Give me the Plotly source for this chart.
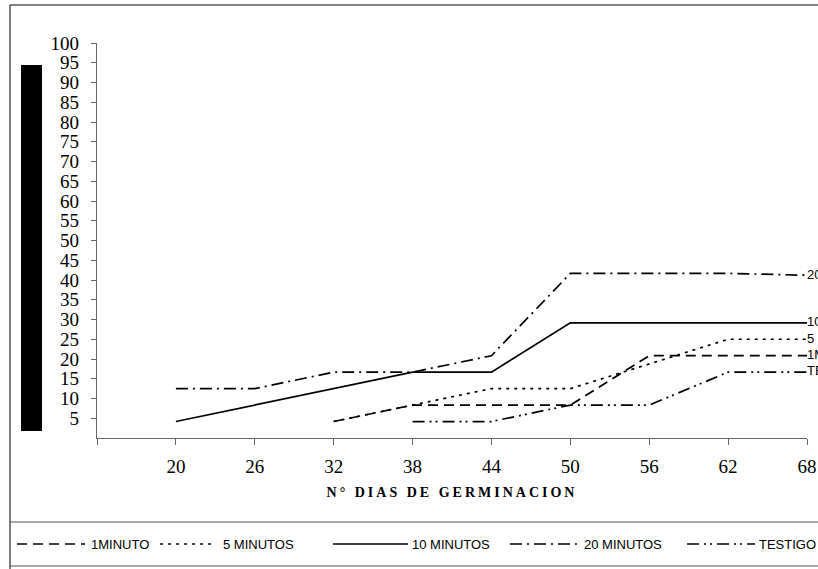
import plotly.graph_objects as go

days = [20, 26, 32, 38, 44, 50, 56, 62, 68]
min1 = [None, None, 4.17, 8.33, 8.33, 8.33, 20.83, 20.83, 20.83]
min5 = [None, None, 4.17, 8.33, 12.5, 12.5, 18.75, 25.0, 25.0]
min10 = [4.17, 8.33, 12.5, 16.67, 16.67, 29.17, 29.17, 29.17, 29.17]
min20 = [12.5, 12.5, 16.67, 16.67, 20.83, 41.67, 41.67, 41.67, 41.2]
testigo = [None, None, None, 4.17, 4.17, 8.33, 8.33, 16.67, 16.67]

series_names = ["1MINUTO", "5 MINUTOS", "10 MINUTOS", "20 MINUTOS", "TESTIGO"]
series_values = [min1, min5, min10, min20, testigo]
dashes = ["10px,6px", "3px,5px", "solid", "12px,5px,2px,5px", "12px,5px,2px,4px,2px,5px"]

x_tickvals = [14, 20, 26, 32, 38, 44, 50, 56, 62, 68]
x_ticktext = ["", "20", "26", "32", "38", "44", "50", "56", "62", "68"]
y_tickvals = list(range(5, 101, 5))

W, H = 818, 569
L, R, T, B = 97, 11, 43, 131
pw, ph = W - L - R, H - T - B

def px(xp):
    return (xp - L) / pw

def py(yp):
    return (H - B - yp) / ph

# manual legend layout (pixel positions)
leg_sym_x0 = [17, 160, 333, 510, 687]
leg_sym_x1 = [85, 213, 408, 580, 755]
leg_txt_x = [89, 221, 410, 582, 757]
leg_y = 544

fig = go.Figure()
for name, vals, dash in zip(series_names, series_values, dashes):
    txt = [""] * (len(vals) - 1) + [name]
    fig.add_trace(go.Scatter(
        x=days, y=vals, name=name, mode="lines+text",
        text=txt, textposition="middle right",
        textfont=dict(family="Liberation Sans", size=13, color="black"),
        line=dict(color="black", width=1.7, dash=dash),
        cliponaxis=False, connectgaps=False, showlegend=False,
    ))

shapes = [
    dict(type="rect", xref="paper", yref="paper", x0=px(10), x1=px(840), y0=py(600), y1=py(5),
         line=dict(color="black", width=1), fillcolor="rgba(0,0,0,0)", layer="below"),
    dict(type="line", xref="paper", yref="paper", x0=px(10), x1=px(840), y0=py(522), y1=py(522),
         line=dict(color="#555555", width=1.2)),
    dict(type="line", xref="paper", yref="paper", x0=px(10), x1=px(840), y0=py(566), y1=py(566),
         line=dict(color="#555555", width=1.2)),
    dict(type="rect", xref="paper", yref="paper", x0=px(21), x1=px(42), y0=py(431), y1=py(65),
         line=dict(width=0), fillcolor="black"),
]
annotations = []
for name, dash, x0, x1, tx in zip(series_names, dashes, leg_sym_x0, leg_sym_x1, leg_txt_x):
    shapes.append(dict(type="line", xref="paper", yref="paper", x0=px(x0), x1=px(x1),
                       y0=py(leg_y), y1=py(leg_y), line=dict(color="black", width=1.7, dash=dash)))
    annotations.append(dict(xref="paper", yref="paper", x=px(tx), y=py(leg_y), text=name,
                            showarrow=False, xanchor="left", yanchor="middle",
                            font=dict(family="Liberation Sans", size=13, color="black")))

fig.update_layout(
    width=W, height=H, autosize=False,
    margin=dict(l=L, r=R, t=T, b=B, autoexpand=False),
    paper_bgcolor="white", plot_bgcolor="white",
    showlegend=False,
    shapes=shapes, annotations=annotations,
    xaxis=dict(range=[14, 68], tickmode="array", tickvals=x_tickvals, ticktext=x_ticktext,
               automargin=False,
               showline=True, linecolor="#666666", linewidth=1.2, ticks="outside", ticklen=6,
               tickcolor="#666666", showgrid=False, zeroline=False, ticklabelstandoff=5,
               tickfont=dict(family="Liberation Serif", size=19, color="black"),
               title=dict(text='<span style="letter-spacing:3px"><b>N° DIAS DE GERMINACION</b></span>',
                          standoff=11,
                          font=dict(family="Liberation Serif", size=14, color="black"))),
    yaxis=dict(range=[0, 100], tickmode="array", tickvals=y_tickvals, automargin=False,
               showline=True, linecolor="#666666", linewidth=1.2, ticks="outside", ticklen=5,
               tickcolor="#666666", showgrid=False, zeroline=False, ticklabelstandoff=8,
               tickfont=dict(family="Liberation Serif", size=19, color="black")),
)

fig.write_html("out.html", config={"displayModeBar": False},
               post_script="document.body.style.margin='0';document.body.style.overflow='hidden';")
